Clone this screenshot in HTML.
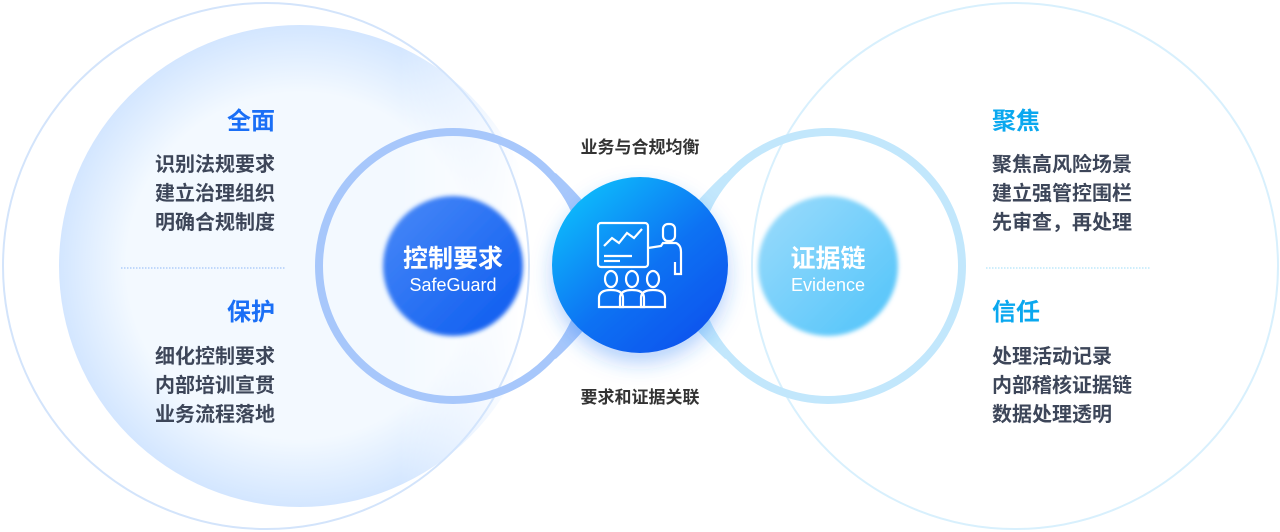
<!DOCTYPE html>
<html><head><meta charset="utf-8"><style>
body{margin:0;width:1280px;height:532px;overflow:hidden;background:#fff;position:relative;font-family:"Liberation Sans","Noto Sans CJK SC",sans-serif}
.t{position:absolute;white-space:nowrap}
.h{font-size:24px;font-weight:700;line-height:28px}
.l{font-size:20px;font-weight:700;color:#3d4659;line-height:29px}
.c{font-size:17px;font-weight:700;color:#333;width:200px;text-align:center;left:540px}
</style></head><body>
<svg width="1280" height="532" style="position:absolute;left:0;top:0">
<defs>
<radialGradient id="fill" cx="0.5" cy="0.5" r="0.5">
<stop offset="0.72" stop-color="#f3f9ff"/><stop offset="1" stop-color="#d3e6ff"/></radialGradient>
<linearGradient id="fade" gradientUnits="userSpaceOnUse" x1="400" y1="0" x2="520" y2="0"><stop offset="0" stop-color="#fff"/><stop offset="1" stop-color="#000"/></linearGradient>
<mask id="m"><rect x="0" y="0" width="700" height="532" fill="url(#fade)"/></mask>
<linearGradient id="gL" x1="0" y1="0" x2="1" y2="1"><stop offset="0" stop-color="#4a8af7"/><stop offset="1" stop-color="#0a5af0"/></linearGradient>
<linearGradient id="gR" x1="0" y1="0" x2="1" y2="1"><stop offset="0" stop-color="#9ddcfb"/><stop offset="1" stop-color="#4fc3fa"/></linearGradient>
<linearGradient id="gC" x1="0.15" y1="0.1" x2="0.85" y2="0.9"><stop offset="0" stop-color="#0cb8fb"/><stop offset="0.55" stop-color="#0a72f3"/><stop offset="1" stop-color="#0a55ee"/></linearGradient>
<filter id="sh" x="-50%" y="-50%" width="200%" height="200%"><feDropShadow dx="0" dy="10" stdDeviation="10" flood-color="#2f7cf6" flood-opacity="0.35"/></filter>
<filter id="bl"><feGaussianBlur stdDeviation="2"/></filter>
</defs>
<circle cx="266" cy="266" r="263" fill="none" stroke="#d3e4fb" stroke-width="2"/>
<circle cx="1015" cy="266" r="263" fill="none" stroke="#d8f0fd" stroke-width="2"/>
<circle cx="300" cy="266" r="241" fill="url(#fill)" mask="url(#m)"/>
<circle cx="453" cy="266" r="134" fill="none" stroke="#a7c7fb" stroke-width="8"/>
<circle cx="828" cy="266" r="134" fill="none" stroke="#c2e7fc" stroke-width="8"/>
<path d="M553,176 Q575,196 600,228" stroke="#a7c7fb" stroke-width="8" fill="none"/>
<path d="M553,356 Q575,336 600,304" stroke="#a7c7fb" stroke-width="8" fill="none"/>
<path d="M728,176 Q706,196 680,228" stroke="#c2e7fc" stroke-width="8" fill="none"/>
<path d="M728,356 Q706,336 680,304" stroke="#c2e7fc" stroke-width="8" fill="none"/>
<circle cx="453" cy="266" r="70" fill="url(#gL)" filter="url(#bl)"/>
<circle cx="828" cy="266" r="70" fill="url(#gR)" filter="url(#bl)"/>
<circle cx="640" cy="265" r="88" fill="url(#gC)" filter="url(#sh)"/>
<line x1="121" y1="268" x2="285" y2="268" stroke="#8db8f7" stroke-dasharray="1.5 1.5"/>
<line x1="986" y1="268" x2="1150" y2="268" stroke="#9ddcf8" stroke-dasharray="1.5 1.5"/>
<g fill="none" stroke="#fff" stroke-width="2.2">
<rect x="598" y="223" width="50" height="44" rx="3"/>
<polyline points="604,246 612,238 619,243 627,233 634,238 642,229"/>
<line x1="604" y1="256" x2="632" y2="256"/><line x1="604" y1="261" x2="620" y2="261"/>
<rect x="663" y="224" width="12" height="17" rx="5"/>
<path d="M648,248 L661,246 L663,243 L676,243 Q681,245 681,252 L681,274 L675,274 L675,262"/>
<ellipse cx="611" cy="279" rx="6" ry="8"/><path d="M599,307 v-9 q0,-8 12,-8 q12,0 12,8 v9 z"/>
<ellipse cx="632" cy="279" rx="6" ry="8"/><path d="M620,307 v-9 q0,-8 12,-8 q12,0 12,8 v9 z"/>
<ellipse cx="653" cy="279" rx="6" ry="8"/><path d="M641,307 v-9 q0,-8 12,-8 q12,0 12,8 v9 z"/>
</g>
</svg>
<div class="t h" style="right:1005px;top:108px;color:#1a6ff6">全面</div>
<div class="t l" style="right:1005px;top:151px;text-align:right">识别法规要求<br>建立治理组织<br>明确合规制度</div>
<div class="t h" style="right:1005px;top:299px;color:#1a6ff6">保护</div>
<div class="t l" style="right:1005px;top:343px;text-align:right">细化控制要求<br>内部培训宣贯<br>业务流程落地</div>
<div class="t h" style="left:992px;top:108px;color:#0aa8ef">聚焦</div>
<div class="t l" style="left:992px;top:151px">聚焦高风险场景<br>建立强管控围栏<br>先审查，再处理</div>
<div class="t h" style="left:992px;top:299px;color:#0aa8ef">信任</div>
<div class="t l" style="left:992px;top:343px">处理活动记录<br>内部稽核证据链<br>数据处理透明</div>
<div class="t c" style="top:133px">业务与合规均衡</div>
<div class="t c" style="top:383px">要求和证据关联</div>
<div class="t" style="left:353px;width:200px;text-align:center;top:239px;color:#fff;font-size:25px;font-weight:700">控制要求</div>
<div class="t" style="left:353px;width:200px;text-align:center;top:275px;color:#fff;font-size:18px">SafeGuard</div>
<div class="t" style="left:728px;width:200px;text-align:center;top:239px;color:#fff;font-size:25px;font-weight:700">证据链</div>
<div class="t" style="left:728px;width:200px;text-align:center;top:275px;color:#fff;font-size:18px">Evidence</div>
</body></html>
